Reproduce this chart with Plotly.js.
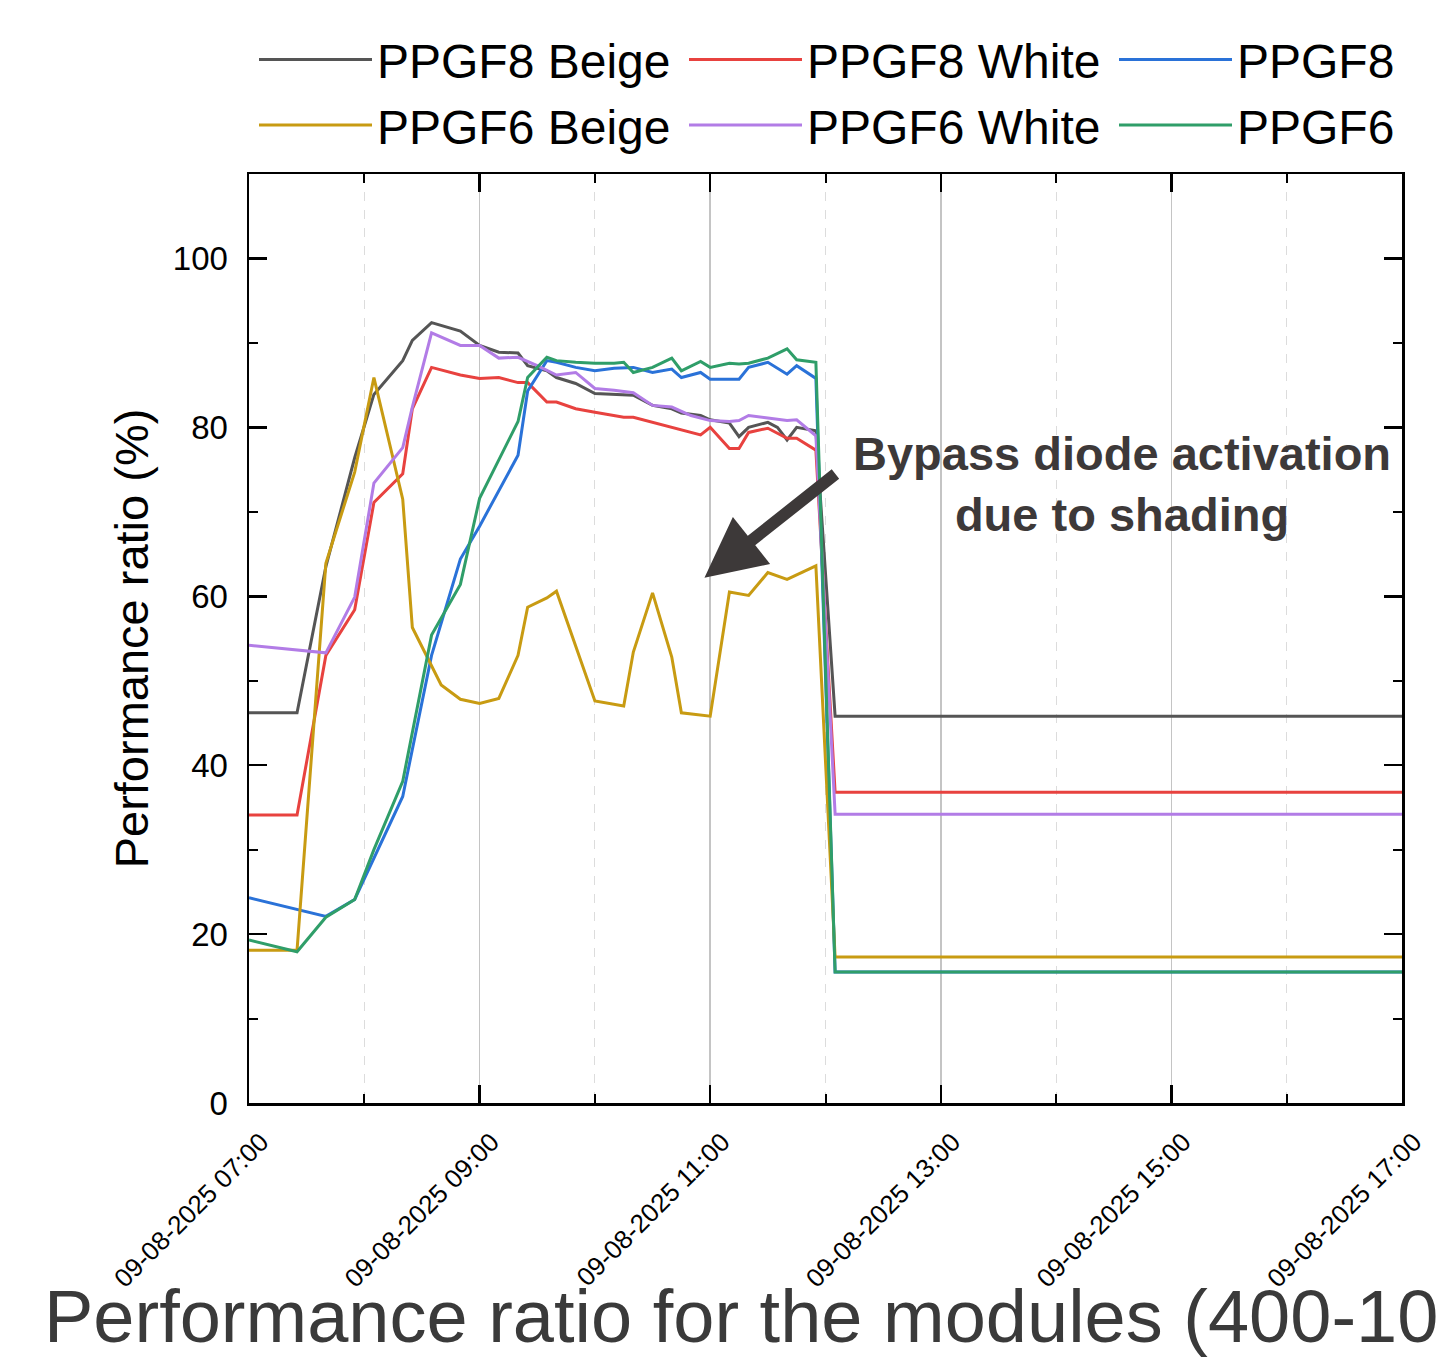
<!DOCTYPE html>
<html>
<head>
<meta charset="utf-8">
<script src="https://cdn.plot.ly/plotly-3.0.1.min.js"></script>
<style>html,body{margin:0;padding:0;background:#fff;}#chart{width:1445px;height:1358px;}</style>
</head>
<body>
<div id="chart"></div>
<script>
// Minutes after 07:00 on 09-08-2025, and performance ratio (%) per module
const beigeF8Min = [0,25,40,55,65,80,85,95,110,120,130,140,145,155,160,170,180,190,200,210,220,225,235,240,250,255,260,270,275,280,285,295,305,600];
const beigeF8    = [46.2,46.2,63.5,76.4,83.9,87.9,90.3,92.4,91.4,89.7,88.9,88.8,87.3,86.7,85.9,85.2,84.0,83.9,83.8,82.6,82.2,81.7,81.4,80.9,80.5,78.9,80.0,80.6,80.0,78.5,80.0,79.6,45.8,45.8];

const whiteF8Min = [0,25,40,55,65,80,85,95,110,120,130,140,145,155,160,170,180,190,195,200,210,220,235,240,250,255,260,270,280,285,295,305,600];
const whiteF8    = [34.1,34.1,53.0,58.4,71.1,74.5,82.2,87.1,86.2,85.8,85.9,85.3,85.3,83.0,83.0,82.2,81.8,81.4,81.2,81.2,80.6,80.0,79.1,80.0,77.5,77.5,79.4,79.9,78.7,78.7,77.3,36.8,36.8];

const plainF8Min = [0,40,55,80,95,110,120,140,145,155,160,170,180,190,200,210,220,225,235,240,250,255,260,270,280,285,295,305,600];
const plainF8    = [24.3,22.1,24.1,36.3,53.0,64.4,68.3,76.7,84.3,87.9,87.7,87.1,86.7,87.0,87.1,86.5,86.9,85.9,86.5,85.7,85.7,85.7,87.1,87.7,86.3,87.3,85.8,15.5,15.5];

const beigeF6Min = [0,25,40,55,65,80,85,100,110,120,130,140,145,155,160,180,195,200,210,220,225,240,250,260,270,280,295,305,600];
const beigeF6    = [18.1,18.1,63.9,74.7,85.9,71.5,56.3,49.5,47.8,47.3,47.9,53.0,58.7,59.8,60.6,47.6,47.0,53.4,60.4,52.8,46.2,45.8,60.5,60.1,62.8,62.0,63.6,17.3,17.3];

const whiteF6Min = [0,40,55,65,80,85,95,110,120,130,140,150,160,170,180,190,200,210,220,230,240,250,255,260,270,280,285,295,305,600];
const whiteF6    = [54.2,53.3,59.9,73.4,77.6,82.4,91.2,89.7,89.7,88.2,88.3,87.3,86.2,86.5,84.6,84.4,84.1,82.6,82.4,81.4,80.8,80.7,80.8,81.4,81.1,80.8,80.9,79.0,34.2,34.2];

const plainF6Min = [0,25,40,55,65,80,95,110,120,140,145,155,160,170,180,190,195,200,210,220,225,235,240,250,255,260,270,280,285,295,305,600];
const plainF6    = [19.3,17.9,22.0,24.1,30.0,38.1,55.4,61.4,71.6,80.7,85.9,88.3,87.9,87.7,87.6,87.6,87.7,86.5,87.1,88.2,86.7,87.8,87.1,87.6,87.5,87.6,88.2,89.3,88.0,87.7,15.5,15.5];

const seriesNames  = ['PPGF8 Beige','PPGF8 White','PPGF8','PPGF6 Beige','PPGF6 White','PPGF6'];
const seriesColors = ['#555555','#e8423f','#2a72d8','#c89b12','#b27ce6','#2f9e69'];
const legendColumn = ['legend','legend2','legend3','legend','legend2','legend3'];
const xTickFormat = '%d-%m-%Y %H:%M';

function toDate(m){
  m = Math.round(m);
  const h = 7 + Math.floor(m/60), mm = m % 60;
  return '2025-08-09 ' + String(h).padStart(2,'0') + ':' + String(mm).padStart(2,'0') + ':00';
}

const mins = [beigeF8Min, whiteF8Min, plainF8Min, beigeF6Min, whiteF6Min, plainF6Min];
const vals = [beigeF8, whiteF8, plainF8, beigeF6, whiteF6, plainF6];

const FONT = 'Liberation Sans, Arial, sans-serif';

const traces = seriesNames.map((n,i)=>({
  type:'scatter', mode:'lines', name:n, legend:legendColumn[i],
  x: mins[i].map(toDate), y: vals[i],
  line:{color:seriesColors[i], width:3}
}));

function legendAt(xpx){
  return {
    orientation:'v', x:(xpx-249)/1153, xanchor:'left', y:1.1638, yanchor:'top',
    font:{family:FONT, size:48, color:'#000000'},
    itemwidth:113, bgcolor:'rgba(0,0,0,0)', traceorder:'normal', tracegroupgap:0
  };
}

const layout = {
  width:1445, height:1358,
  margin:{l:249, r:43, t:174, b:255},
  paper_bgcolor:'#ffffff', plot_bgcolor:'#ffffff',
  font:{family:FONT, color:'#000000'},
  showlegend:true,
  legend:legendAt(254),
  legend2:legendAt(684),
  legend3:legendAt(1114),
  xaxis:{
    type:'date',
    range:['2025-08-09 07:00:00','2025-08-09 17:00:00'],
    tick0:'2025-08-09 07:00:00', dtick:7200000,
    tickformat:xTickFormat, tickangle:-45,
    tickfont:{family:FONT, size:26, color:'#000000'},
    ticklabelstandoff:11, ticklabelshift:12,
    ticks:'inside', ticklen:18, tickwidth:2.5, tickcolor:'#000000',
    showline:true, linecolor:'#000000', linewidth:2.5, mirror:'allticks',
    showgrid:true, gridcolor:'#c4c4c4', gridwidth:1.5,
    zeroline:false,
    minor:{dtick:3600000, tick0:'2025-08-09 07:00:00', ticks:'inside', ticklen:9, tickwidth:2, tickcolor:'#000000',
           showgrid:true, gridcolor:'#dcdcdc', griddash:'dash', gridwidth:1}
  },
  yaxis:{
    range:[0,110], tick0:0, dtick:20,
    tickfont:{family:FONT, size:33, color:'#000000'},
    ticks:'inside', ticklen:18, tickwidth:2.5, tickcolor:'#000000',
    ticklabelstandoff:12,
    showline:true, linecolor:'#000000', linewidth:2.5, mirror:'allticks',
    showgrid:false, zeroline:false,
    minor:{dtick:10, ticks:'inside', ticklen:9, tickwidth:2, tickcolor:'#000000', showgrid:false},
    title:{text:'Performance ratio (%)', font:{family:FONT, size:47, color:'#000000'}, standoff:10}
  },
  annotations:[
    {
      xref:'paper', yref:'paper', x:(1122-249)/1153, y:(1103-484)/929,
      xanchor:'center', yanchor:'middle', showarrow:false,
      text:'<b>Bypass diode activation</b><br><b>due to shading</b>',
      font:{family:FONT, size:47, color:'#3d3939'}
    },
    {
      xref:'x', yref:'y', axref:'pixel', ayref:'pixel',
      x:toDate(237), y:62.2, ax:134, ay:-106,
      text:' ', showarrow:true, arrowhead:2, arrowsize:1, arrowwidth:12, arrowcolor:'#3d3939', standoff:0
    },
    {
      xref:'paper', yref:'paper', x:(42-249)/1153, y:(1103-1316)/929,
      xanchor:'left', yanchor:'middle', showarrow:false,
      text:'Performance ratio for the modules (400-10',
      font:{family:FONT, size:74, color:'#3a3a3a'}
    }
  ]
};

Plotly.newPlot('chart', traces, layout, {displayModeBar:false, staticPlot:true});
</script>
</body>
</html>
